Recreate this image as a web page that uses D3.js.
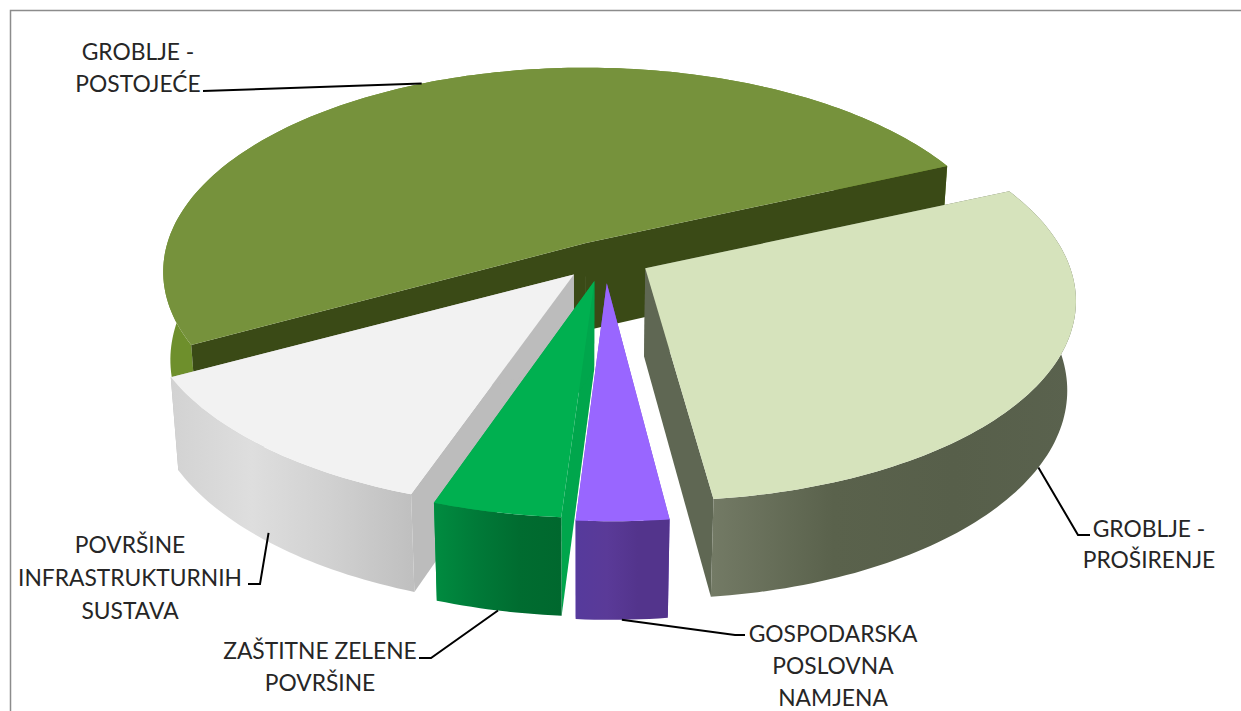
<!DOCTYPE html>
<html><head><meta charset="utf-8">
<style>html,body{margin:0;padding:0;background:#fff}svg{display:block}text{font-family:Lato,"Open Sans",sans-serif;font-size:22.8px;fill:#262626;text-anchor:middle}</style>
<script src="https://cdn.jsdelivr.net/npm/d3@7"></script></head><body>
<script>
// DATA (clockwise from the start bearing)
const categories = ["GROBLJE - PROŠIRENJE","GOSPODARSKA POSLOVNA NAMJENA","ZAŠTITNE ZELENE POVRŠINE","POVRŠINE INFRASTRUKTURNIH SUSTAVA","GROBLJE - POSTOJEĆE"];
const values = [29.8, 3.0, 4.2, 11.8, 51.2];
const labelLines = [["GROBLJE -","PROŠIRENJE"],["GOSPODARSKA","POSLOVNA","NAMJENA"],["ZAŠTITNE ZELENE","POVRŠINE"],["POVRŠINE","INFRASTRUKTURNIH","SUSTAVA"],["GROBLJE -","POSTOJEĆE"]];

// STYLE / LAYOUT
const W=1241,H=711;
const topColors=["#d6e3bc","#9966ff","#00b050","#f2f2f2","#76923c"];
const wallStops=[["#737a65","#5a624c","#575f4a","#5a624e"],["#563a9c","#5a3a98","#53348c","#53348c"],["#008c40","#007a38","#006c30","#00682e"],["#d2d2d2","#dedede","#d0d0d0","#bfbfbf"],["#6e8f2c","#6e8f2c","#6e8f2c","#6e8f2c"]];
const cutColors=["#5f6753","#7a52d0","#00a64c","#bcbcbc","#3a4a16"];
const explode=[[64,58],[26,89],[14,84],[-6,71],[6,4.5]];
const radii=[417,417,417,417,418];
const yStretch=[1,1,1,1,1.035];
const wallUnderCuts=[false,false,false,false,true];
const labelPos=[[1149,537],[833,642],[320,659],[130,553],[138,60]];
const lineGap=[31,32,32,33,32];
const elbows=[[[1078,535],[1090,535]],[[735,635],[745,635]],[[431,658],[419,658]],[[260,584],[248,584]],[[203,91]]];
const leaderDepth=[1,1,1,0.9,0];
const gradX=[[712,1075],[576,669],[433,563],[170,415],[160,200]];

const cx=580,cy=241,elev=27.5*Math.PI/180,dist=2700,depth=100;
const sinE=Math.sin(elev),cosE=Math.cos(elev);

function project(X,Y,Z){
  const u=-Y*sinE+Z*cosE, w=Y*cosE+Z*sinE, s=dist/(dist-w);
  return [cx+X*s, cy-u*s];
}
const pie=d3.pie().sort(null).value(d=>d).startAngle(66*Math.PI/180).endAngle((66+360)*Math.PI/180);
const arcs=pie(values);
const line=d3.line();

const svg=d3.select("body").append("svg").attr("width",W).attr("height",H);
svg.append("rect").attr("width",W).attr("height",H).attr("fill","#fff");
svg.append("path").attr("d",d3.line()([[10.5,H],[10.5,10.5],[W,10.5]])).attr("fill","none").attr("stroke","#8c8c8c").attr("stroke-width",1.5);
const defs=svg.append("defs");

function pt(i,a,r,z){
  const [ex,ey]=explode[i];
  return project(ex+r*Math.sin(a),ey-r*yStretch[i]*Math.cos(a),z);
}
function arcPts(i,a0,a1,z){
  const n=Math.max(4,Math.ceil(Math.abs(a1-a0)/0.02));
  return d3.range(n+1).map(k=>pt(i,a0+(a1-a0)*k/n,radii[i],z));
}

// draw order: back slice first, then the exploded ones
const order=[4,0,3,2,1];
order.forEach(i=>{
  const d=arcs[i], g=svg.append("g").attr("class","slice").attr("data-name",categories[i]);
  const R=radii[i], gid="wall"+i;
  const lg=defs.append("linearGradient").attr("id",gid).attr("gradientUnits","userSpaceOnUse")
    .attr("x1",gradX[i][0]).attr("x2",gradX[i][1]).attr("y1",0).attr("y2",0);
  wallStops[i].forEach((c,k)=>lg.append("stop").attr("offset",k/(wallStops[i].length-1)).attr("stop-color",c));
  const top=arcPts(i,d.startAngle,d.endAngle,0);
  const bot=arcPts(i,d.startAngle,d.endAngle,-depth);
  const drawWall=()=>g.append("path").attr("fill",`url(#${gid})`).attr("d",line(top.concat(bot.slice().reverse()))+"Z");
  if(wallUnderCuts[i]) drawWall();
  [d.startAngle,d.endAngle].forEach(a=>{
    g.append("path").attr("fill",cutColors[i])
     .attr("d",line([pt(i,a,0,0),pt(i,a,R,0),pt(i,a,R,-depth),pt(i,a,0,-depth)])+"Z");
  });
  if(!wallUnderCuts[i]) drawWall();
  g.append("path").attr("fill",topColors[i]).attr("d",line([pt(i,0,0,0)].concat(top))+"Z");
});

// leaders & labels
arcs.forEach((d,i)=>{
  const mid=(d.startAngle+d.endAngle)/2;
  const start=pt(i,mid,radii[i],-depth*leaderDepth[i]);
  svg.append("path").attr("fill","none").attr("stroke","#000").attr("stroke-width",2)
     .attr("d",line([start].concat(elbows[i])));
  const t=svg.append("text");
  labelLines[i].forEach((s,k)=>t.append("tspan").attr("x",labelPos[i][0]).attr("y",labelPos[i][1]+k*lineGap[i]).text(s));
});
</script></body></html>
